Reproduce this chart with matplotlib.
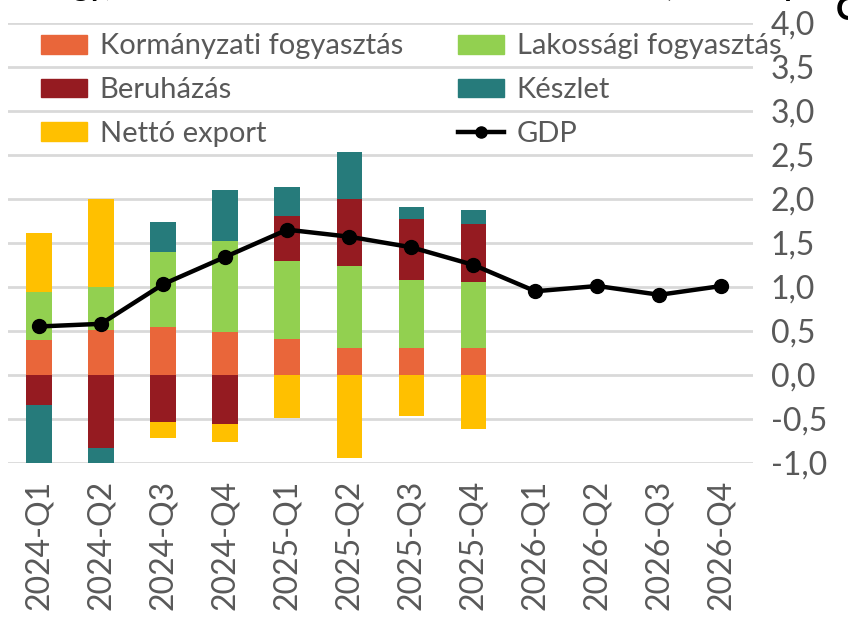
import numpy as np
import matplotlib.pyplot as plt
from matplotlib.patches import Patch
from matplotlib.lines import Line2D
from matplotlib.ticker import FuncFormatter

plt.rcParams['font.family'] = ['Lato', 'DejaVu Sans']

quarters = ['2024-Q1', '2024-Q2', '2024-Q3', '2024-Q4',
            '2025-Q1', '2025-Q2', '2025-Q3', '2025-Q4',
            '2026-Q1', '2026-Q2', '2026-Q3', '2026-Q4']

# contributions (percentage points), only 2024-2025 have bars
korm = [0.40, 0.51, 0.54, 0.49, 0.41, 0.31, 0.31, 0.31]
lak = [0.54, 0.49, 0.86, 1.03, 0.88, 0.93, 0.77, 0.74]
beru = [-0.34, -0.83, -0.53, -0.56, 0.52, 0.76, 0.69, 0.66]
keszlet = [-0.70, -0.30, 0.34, 0.58, 0.33, 0.53, 0.14, 0.16]
netto = [0.67, 1.00, -0.19, -0.20, -0.49, -0.94, -0.47, -0.62]
gdp = [0.55, 0.58, 1.03, 1.34, 1.65, 1.57, 1.45, 1.25, 0.95, 1.01, 0.91, 1.01]

series = [
    ('Kormányzati fogyasztás', korm, '#E9663A'),
    ('Lakossági fogyasztás', lak, '#92D050'),
    ('Beruházás', beru, '#951B21'),
    ('Készlet', keszlet, '#267B7B'),
    ('Nettó export', netto, '#FFC000'),
]

grey = '#595959'
fig = plt.figure(figsize=(8.48, 6.18), dpi=100)
ax = fig.add_axes([0.0094, 0.251, 0.878, 0.712])

x = np.arange(len(quarters))
nb = len(korm)
pos_bottom = np.zeros(nb)
neg_bottom = np.zeros(nb)
for name, vals, col in series:
    v = np.array(vals)
    bottom = np.where(v >= 0, pos_bottom, neg_bottom)
    ax.bar(x[:nb], v, 0.41, bottom=bottom, color=col, zorder=2)
    pos_bottom += np.where(v >= 0, v, 0)
    neg_bottom += np.where(v < 0, v, 0)

ax.plot(x, gdp, color='black', lw=3.2, marker='o', ms=10, zorder=3)

ax.set_xlim(-0.5, len(quarters) - 0.5)
ax.set_ylim(-1.0, 4.0)
ax.set_yticks(np.arange(-1.0, 4.01, 0.5))
ax.yaxis.set_major_formatter(FuncFormatter(lambda v, p: f'{v:.1f}'.replace('.', ',')))
ax.yaxis.tick_right()
ax.set_xticks(x)
ax.set_xticklabels(quarters, rotation=90)
ax.tick_params(axis='both', length=0, colors=grey, labelsize=23)
ax.tick_params(axis='y', pad=13)
ax.tick_params(axis='x', pad=12)
ax.grid(axis='y', color='#D9D9D9', lw=2, zorder=0)
for s in ax.spines.values():
    s.set_visible(False)

handles = [
    Patch(color=series[0][2], label=series[0][0]),
    Patch(color=series[2][2], label=series[2][0]),
    Patch(color=series[4][2], label=series[4][0]),
    Patch(color=series[1][2], label=series[1][0]),
    Patch(color=series[3][2], label=series[3][0]),
    Line2D([], [], color='black', lw=3.2, marker='o', ms=8, label='GDP'),
]
leg = ax.legend(handles=handles, ncol=2, frameon=False, loc='upper left',
                bbox_to_anchor=(0.045, 0.976), fontsize=21, handlelength=1.55,
                handleheight=0.62, handletextpad=0.45, columnspacing=1.9,
                labelspacing=0.61, borderaxespad=0, borderpad=0)
for t in leg.get_texts():
    t.set_color(grey)

# title line, cut off at the top edge as in the source image
fig.text(0.04, 1.006, 'Nagy, de lassuló bővülés: a GDP és összetevői (százalékpont)',
         fontsize=22, fontweight='bold', va='baseline', ha='left')
fig.text(0.986, 0.968, 'C', fontsize=24, fontweight='bold', va='baseline', ha='left')

fig.savefig('out.png', dpi=100)
